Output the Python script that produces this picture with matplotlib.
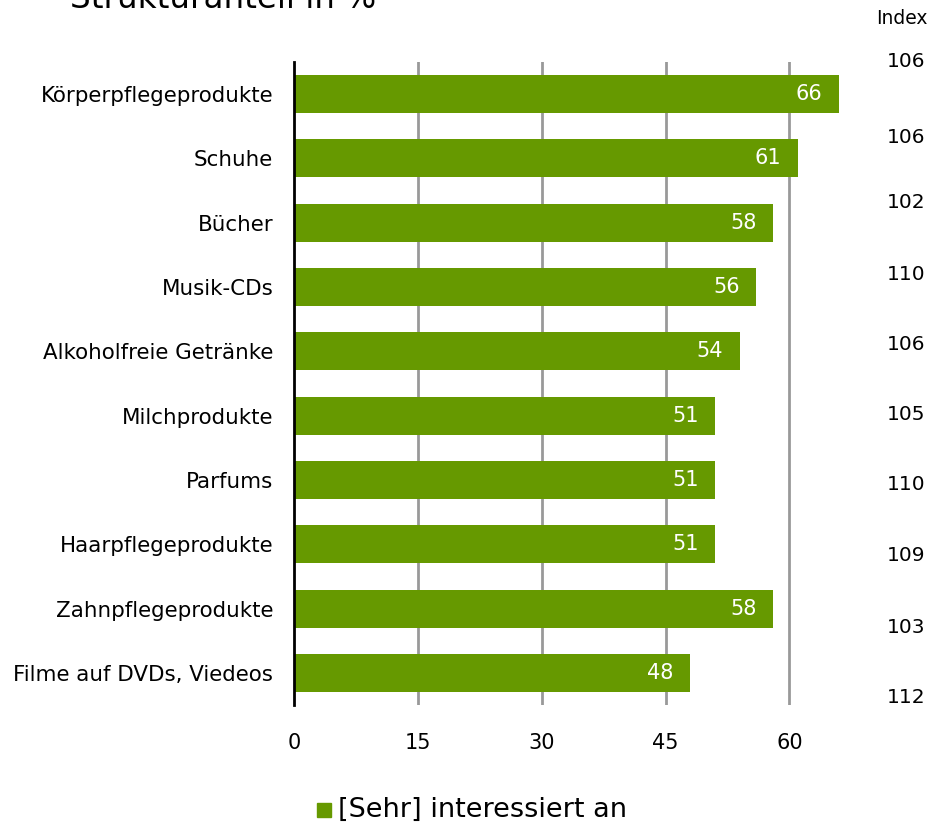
import matplotlib.pyplot as plt

categories = ["Körperpflegeprodukte", "Schuhe", "Bücher", "Musik-CDs",
              "Alkoholfreie Getränke", "Milchprodukte", "Parfums",
              "Haarpflegeprodukte", "Zahnpflegeprodukte", "Filme auf DVDs, Viedeos"]
values = [66, 61, 58, 56, 54, 51, 51, 51, 58, 48]
index_values = [106, 106, 102, 110, 106, 105, 110, 109, 103, 112]
index_offsets = [-0.51, -0.33, -0.32, -0.2, -0.11, -0.02, 0.07, 0.18, 0.3, 0.38]
xticks = [0, 15, 30, 45, 60]

green = "#669900"
plt.rcParams['font.family'] = ['DejaVu Sans']

fig = plt.figure(figsize=(9.32, 8.24), dpi=100)
ax = fig.add_axes([0.3155, 0.1444, 0.62, 0.7804])

ypos = list(range(len(categories)))
ax.barh(ypos, values, height=0.59, color=green, zorder=3)
ax.set_ylim(len(categories) - 0.5, -0.5)
ax.set_xlim(0, 70)

for y, v in zip(ypos, values):
    ax.text(v - 2, y, str(v), color="white", fontsize=15, ha="right", va="center", zorder=4)

# index column on the right
for y, idx, off in zip(ypos, index_values, index_offsets):
    ax.text(1.06, y + off, str(idx), transform=ax.get_yaxis_transform(),
            fontsize=14.5, ha="center", va="center")
fig.text(902 / 932, 1 - 18 / 824, "Index", fontsize=13.5, ha="center", va="center")

for t in xticks[1:]:
    ax.axvline(t, color="#999999", lw=2, zorder=1)

ax.set_yticks(ypos)
ax.set_yticklabels(categories, fontsize=15.4)
ax.set_xticks(xticks)
ax.set_xticklabels([str(t) for t in xticks], fontsize=15)
ax.tick_params(axis="both", length=0)
ax.tick_params(axis="x", pad=20)
ax.tick_params(axis="y", pad=15)

for s in ["top", "right", "bottom"]:
    ax.spines[s].set_visible(False)
ax.spines["left"].set_color("black")
ax.spines["left"].set_linewidth(2)
ax.spines["left"].set_zorder(5)

# legend
fig.patches.append(plt.Rectangle((317 / 932, 1 - 817 / 824), 14 / 932, 14 / 824,
                                 transform=fig.transFigure, color=green))
fig.text(338 / 932, 1 - 810 / 824, "[Sehr] interessiert an", fontsize=19.5, va="center")

fig.text(70 / 932, 1 - 8 / 824, "Strukturanteil in %", fontsize=23.5, va="baseline")

fig.savefig("out.png", dpi=100)
